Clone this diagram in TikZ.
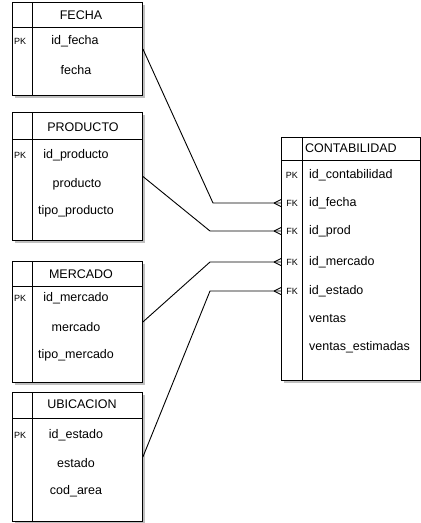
\documentclass[tikz,border=0pt]{standalone}
\usepackage{fontspec}
\setmainfont{Liberation Sans}
\usetikzlibrary{shadows}
\begin{document}
\begin{tikzpicture}[x=1pt,y=-1pt,
 tbl/.style={draw=black, line width=0.9pt, fill=white, anchor=north west, inner sep=0pt,
   drop shadow={opacity=1, fill=black!25, shadow xshift=3pt, shadow yshift=-3pt}},
 fld/.style={font=\fontsize{12.5}{14}\selectfont, inner sep=0pt},
 key/.style={font=\fontsize{9}{10}\selectfont, inner sep=0pt},
 rel/.style={line width=0.9pt},
 crow/.pic={\draw[line width=0.9pt] (-7,0) -- (0,-3.5) (-7,0) -- (0,3.5);}
]
\useasboundingbox (0,0) rectangle (421,523);

% ---------- FECHA ----------
\node[tbl, minimum width=130pt, minimum height=93pt] (fecha) at (12,2) {};
\draw[line width=0.9pt] ([yshift=-25pt]fecha.north west) -- ([yshift=-25pt]fecha.north east);
\draw[line width=0.9pt] ([xshift=20pt]fecha.north west) -- ([xshift=20pt]fecha.south west);
\node[fld] (fecha-t) at (81,15) {FECHA};
\node[key, anchor=west] (fecha-pk) at (14,41) {PK};
\node[fld] (fecha-r1) at (75,41) {id\_fecha};
\node[fld] (fecha-r2) at (76,70) {fecha};

% ---------- PRODUCTO ----------
\node[tbl, minimum width=130pt, minimum height=128pt] (producto) at (12,112) {};
\draw[line width=0.9pt] ([yshift=-27pt]producto.north west) -- ([yshift=-27pt]producto.north east);
\draw[line width=0.9pt] ([xshift=20pt]producto.north west) -- ([xshift=20pt]producto.south west);
\node[fld] (producto-t) at (83,127) {PRODUCTO};
\node[key, anchor=west] (producto-pk) at (14,155) {PK};
\node[fld] (producto-r1) at (76,155) {id\_producto};
\node[fld] (producto-r2) at (77,184) {producto};
\node[fld] (producto-r3) at (76,211) {tipo\_producto};

% ---------- MERCADO ----------
\node[tbl, minimum width=130pt, minimum height=121pt] (mercado) at (12,261) {};
\draw[line width=0.9pt] ([yshift=-25pt]mercado.north west) -- ([yshift=-25pt]mercado.north east);
\draw[line width=0.9pt] ([xshift=20pt]mercado.north west) -- ([xshift=20pt]mercado.south west);
\node[fld] (mercado-t) at (81,274) {MERCADO};
\node[key, anchor=west] (mercado-pk) at (14,298) {PK};
\node[fld] (mercado-r1) at (76,298) {id\_mercado};
\node[fld] (mercado-r2) at (76,327) {mercado};
\node[fld] (mercado-r3) at (76,355) {tipo\_mercado};

% ---------- UBICACION ----------
\node[tbl, minimum width=130pt, minimum height=129pt] (ubicacion) at (12,392) {};
\draw[line width=0.9pt] ([yshift=-26pt]ubicacion.north west) -- ([yshift=-26pt]ubicacion.north east);
\draw[line width=0.9pt] ([xshift=20pt]ubicacion.north west) -- ([xshift=20pt]ubicacion.south west);
\node[fld] (ubicacion-t) at (82,404) {UBICACION};
\node[key, anchor=west] (ubicacion-pk) at (14,435) {PK};
\node[fld] (ubicacion-r1) at (76,435) {id\_estado};
\node[fld] (ubicacion-r2) at (76,463) {estado};
\node[fld] (ubicacion-r3) at (76,491) {cod\_area};

% ---------- CONTABILIDAD ----------
\node[tbl, minimum width=139pt, minimum height=243pt] (contab) at (281,137) {};
\draw[line width=0.9pt] ([yshift=-23pt]contab.north west) -- ([yshift=-23pt]contab.north east);
\draw[line width=0.9pt] ([xshift=21pt]contab.north west) -- ([xshift=21pt]contab.south west);
\node[fld, anchor=west] (contab-t) at (305,148) {CONTABILIDAD};
\node[key, anchor=east] (contab-k1) at (298,175) {PK};
\node[key, anchor=east] (contab-k2) at (298,203) {FK};
\node[key, anchor=east] (contab-k3) at (298,231) {FK};
\node[key, anchor=east] (contab-k4) at (298,262) {FK};
\node[key, anchor=east] (contab-k5) at (298,291) {FK};
\node[fld, anchor=west] (contab-r1) at (309,175) {id\_contabilidad};
\node[fld, anchor=west] (contab-r2) at (309,203) {id\_fecha};
\node[fld, anchor=west] (contab-r3) at (309,231) {id\_prod};
\node[fld, anchor=west] (contab-r4) at (309,262) {id\_mercado};
\node[fld, anchor=west] (contab-r5) at (309,291) {id\_estado};
\node[fld, anchor=west] (contab-r6) at (309,319) {ventas};
\node[fld, anchor=west] (contab-r7) at (309,347) {ventas\_estimadas};

% ---------- relations ----------
\coordinate (b1) at (213,203);
\coordinate (b2) at (210,231);
\coordinate (b3) at (210,262);
\coordinate (b4) at (210,291);
\draw[rel] (fecha.east) -- (b1) -- (b1 -| contab.west);
\draw[rel] (producto.east) -- (b2) -- (b2 -| contab.west);
\draw[rel] (mercado.east) -- (b3) -- (b3 -| contab.west);
\draw[rel] (ubicacion.east) -- (b4) -- (b4 -| contab.west);
\pic at (b1 -| contab.west) {crow};
\pic at (b2 -| contab.west) {crow};
\pic at (b3 -| contab.west) {crow};
\pic at (b4 -| contab.west) {crow};
\end{tikzpicture}
\end{document}
